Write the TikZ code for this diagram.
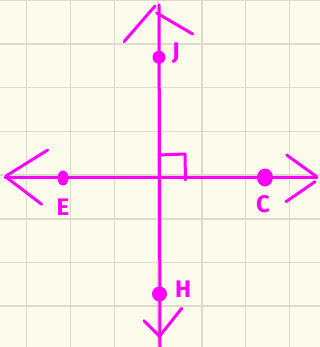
\documentclass[tikz,border=0pt]{standalone}
\usepackage{fontspec}
\setmainfont{Fira Sans}
\definecolor{paper}{HTML}{FDFBEC}
\definecolor{gridc}{HTML}{DEDACC}
\definecolor{mag}{HTML}{FF00FF}
\begin{document}
\begin{tikzpicture}[x=1pt,y=-1pt,
  pen/.style={draw=mag,line width=3pt,line cap=round,line join=round},
  dot/.style={ellipse,fill=mag,inner sep=0pt},
  lbl/.style={text=mag,font=\fontsize{24}{24}\selectfont\bfseries,inner sep=0pt}]
\usetikzlibrary{shapes.geometric}
\fill[paper] (0,0) rectangle (320,347);
\useasboundingbox (0,0) rectangle (320,347);
% grid
\foreach \i in {0,...,6} \draw[gridc,line width=1.5pt] ({26.7+43.8*\i},0) -- ({26.7+43.8*\i},347);
\foreach \j in {0,...,7} \draw[gridc,line width=1.5pt] (0,{0.3+43.7*\j}) -- (320,{0.3+43.7*\j});
% line end coordinates
\coordinate (top) at (159,5);
\coordinate (bot) at (160,347);
\coordinate (lft) at (5,177);
\coordinate (rgt) at (317,177);
% main lines
\draw[pen] (top) -- (bot);
\draw[pen] (lft) -- (rgt);
% arrowheads (hand-drawn)
\draw[pen] (124,41.7) -- (155,6);
\draw[pen] (156.7,13) -- (192.7,34);
\draw[pen] (6,176) -- (47.7,150);
\draw[pen] (6,177) -- (41.7,204.3);
\draw[pen] (286.7,155) -- (316.7,176.7);
\draw[pen] (315,181.7) -- (286,201.7);
\draw[pen] (144,320.7) -- (160,336.7);
\draw[pen] (181.7,308.3) -- (160,335.7);
% right angle mark
\coordinate (ra1) at (159,155);
\coordinate (ra2) at (185,154);
\coordinate (ra3) at (185.5,180);
\draw[pen] (ra1) -- (ra2) -- (ra3);
% points
\node[dot,minimum width=13pt,minimum height=13pt] (J) at (159,57.3) {};
\node[dot,minimum width=11pt,minimum height=15pt] (E) at (63,178) {};
\node[dot,minimum width=16pt,minimum height=18pt] (C) at (265,177.5) {};
\node[dot,minimum width=15pt,minimum height=15pt] (H) at (159.5,294) {};
% labels
\node[lbl] (Jl) at (176,53) {J};
\node[lbl] (El) at (63,207) {E};
\node[lbl] (Cl) at (263,204) {C};
\node[lbl] (Hl) at (183,289) {H};
\end{tikzpicture}
\end{document}
